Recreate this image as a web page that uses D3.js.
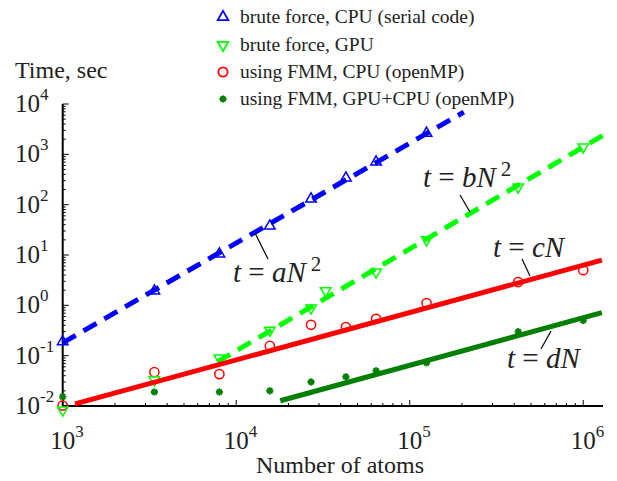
<!DOCTYPE html>
<html>
<head>
<meta charset="utf-8">
<script src="https://cdn.jsdelivr.net/npm/d3@7"></script>
<style>
  body { margin: 0; background: #fff; }
  text { font-family: "Liberation Serif", "Times New Roman", "DejaVu Serif", serif; fill: #222; }
</style>
</head>
<body>
<script>
// timings (seconds), N = number of atoms
var nAtoms   = [1000, 3375, 8000, 15625, 27000, 42875, 64000, 125000, 421875, 1000000];
var nAtomsGpu = [1000, 3375, 8000, 15625, 27000, 32768, 64000, 125000, 421875, 1000000];
var bruteCpu = [0.19, 1.93, 10.5, 37.7, 130, 339, 708, 2630, null, null];
var bruteGpu = [0.0083, 0.033, 0.09, 0.32, 0.885, 1.95, 4.6, 20, 224, 1400];
var fmmCpu   = [0.0102, 0.047, 0.043, 0.156, 0.41, 0.37, 0.54, 1.11, 2.9, 5.0];
var fmmGpu   = [0.0153, 0.019, 0.019, 0.020, 0.030, 0.038, 0.05, 0.072, 0.30, 0.50];

// fitted lines, end points [N, t]
var fitA = [[1000, 0.18], [205000, 6900]];
var fitB = [[7770, 0.075], [1370000, 2650]];
var fitC = [[1178, 0.011], [1280000, 7.9]];
var fitD = [[17950, 0.0127], [1280000, 0.714]];

var legendLabels = ["brute force, CPU (serial code)", "brute force, GPU",
                    "using FMM, CPU (openMP)", "using FMM, GPU+CPU (openMP)"];
var xTickExp = [3, 4, 5, 6];
var yTickExp = [-2, -1, 0, 1, 2, 3, 4];

var width = 617, height = 481;
var svg = d3.select("body").append("svg")
    .attr("width", width)
    .attr("height", height)
    .attr("font-family", "Liberation Serif, Times New Roman, DejaVu Serif, serif");

var x = d3.scaleLog().domain([1e3, 1.3e6]).range([62.7, 603]);
var y = d3.scaleLog().domain([1e-2, 1e4]).range([406, 104]);

var blue = "#0000ff", green = "#00ff00", red = "#ff0000", dgreen = "#007f00";

// ---- axes (ticks pointing inward) ----
var xAll = x.ticks().filter(function(v){ return v <= 1e6; });
var yAll = y.ticks();
function isMajor(v){ return Math.abs(Math.log10(v) - Math.round(Math.log10(v))) < 1e-9; }

var gx = svg.append("g").attr("transform", "translate(0,406)");
gx.append("line").attr("x1", 62.7).attr("x2", 603).attr("stroke", "#000").attr("stroke-width", 2);
gx.selectAll(".tk").data(xAll).enter().append("line")
    .attr("x1", function(d){ return x(d); })
    .attr("x2", function(d){ return x(d); })
    .attr("y1", 0)
    .attr("y2", function(d){ return isMajor(d) ? -6 : -3; })
    .attr("stroke", "#000").attr("stroke-width", 1);

var gy = svg.append("g").attr("transform", "translate(62.7,0)");
gy.append("line").attr("y1", 104).attr("y2", 406).attr("stroke", "#000").attr("stroke-width", 2);
gy.selectAll(".tk").data(yAll).enter().append("line")
    .attr("y1", function(d){ return y(d); })
    .attr("y2", function(d){ return y(d); })
    .attr("x1", 0)
    .attr("x2", function(d){ return isMajor(d) ? 6 : 3; })
    .attr("stroke", "#000").attr("stroke-width", 1);

// tick labels 10^k
xTickExp.forEach(function(k){
    var t = svg.append("text").attr("x", x(Math.pow(10, k)) - 12.5).attr("y", 449);
    t.append("tspan").attr("font-size", 25).text("10");
    t.append("tspan").attr("font-size", 17).attr("dy", -12).text(k);
});
yTickExp.forEach(function(k){
    var t = svg.append("text").attr("x", 15).attr("y", y(Math.pow(10, k)) + 8);
    t.append("tspan").attr("font-size", 25).text("10");
    t.append("tspan").attr("font-size", 17).attr("dy", -12).text(k);
});

svg.append("text").attr("x", 15).attr("y", 78).attr("font-size", 24).text("Time, sec");
svg.append("text").attr("x", 340).attr("y", 473).attr("text-anchor", "middle")
    .attr("font-size", 24).text("Number of atoms");

// ---- markers ----
var triUp = d3.symbol().type(d3.symbolTriangle).size(48);
function star(g, cx, cy, col){
    var r = 3.6;
    for (var i = 0; i < 4; i++){
        var a = i * Math.PI / 4;
        g.append("line")
            .attr("x1", cx - r * Math.cos(a)).attr("y1", cy - r * Math.sin(a))
            .attr("x2", cx + r * Math.cos(a)).attr("y2", cy + r * Math.sin(a))
            .attr("stroke", col).attr("stroke-width", 2);
    }
}

var marks = svg.append("g");
nAtoms.forEach(function(n, i){
    if (bruteCpu[i] != null){
        marks.append("path").attr("d", triUp())
            .attr("transform", "translate(" + x(n) + "," + y(bruteCpu[i]) + ")")
            .attr("fill", "none").attr("stroke", blue).attr("stroke-width", 1.5);
    }
    marks.append("circle").attr("cx", x(n)).attr("cy", y(fmmCpu[i])).attr("r", 4.6)
        .attr("fill", "none").attr("stroke", red).attr("stroke-width", 1.5);
    star(marks, x(n), y(fmmGpu[i]), dgreen);
});
nAtomsGpu.forEach(function(n, i){
    marks.append("path").attr("d", triUp())
        .attr("transform", "translate(" + x(n) + "," + y(bruteGpu[i]) + ") rotate(180)")
        .attr("fill", "none").attr("stroke", green).attr("stroke-width", 1.5);
});

// ---- fit lines ----
var line = d3.line().x(function(d){ return x(d[0]); }).y(function(d){ return y(d[1]); });
svg.append("path").attr("d", line(fitA)).attr("fill", "none").attr("stroke", blue)
    .attr("stroke-width", 5).attr("stroke-dasharray", "15,9");
svg.append("path").attr("d", line(fitB)).attr("fill", "none").attr("stroke", green)
    .attr("stroke-width", 5).attr("stroke-dasharray", "15,9");
svg.append("path").attr("d", line(fitC)).attr("fill", "none").attr("stroke", red)
    .attr("stroke-width", 5);
svg.append("path").attr("d", line(fitD)).attr("fill", "none").attr("stroke", dgreen)
    .attr("stroke-width", 5);

// ---- annotations ----
var notes = [
    {coef: "a", sq: true,  tx: 233, ty: 282, l: [255, 233, 268, 259]},
    {coef: "b", sq: true,  tx: 423, ty: 187, l: [460, 195, 470, 212]},
    {coef: "c", sq: false, tx: 493, ty: 257, l: [522, 259, 530, 276]},
    {coef: "d", sq: false, tx: 507, ty: 368, l: [551, 331, 541, 349]}
];
notes.forEach(function(o){
    svg.append("line").attr("x1", o.l[0]).attr("y1", o.l[1]).attr("x2", o.l[2]).attr("y2", o.l[3])
        .attr("stroke", "#111").attr("stroke-width", 1.3);
    var t = svg.append("text").attr("x", o.tx).attr("y", o.ty).attr("font-size", 29);
    t.append("tspan").attr("font-style", "italic").text("t");
    t.append("tspan").text(" = ");
    t.append("tspan").attr("font-style", "italic").text(o.coef + "N");
    if (o.sq) t.append("tspan").attr("font-size", 21).attr("dx", 5).attr("dy", -11).text("2");
});

// ---- legend ----
var legY = [17, 45, 72, 99];
var lg = svg.append("g");
lg.append("path").attr("d", triUp()).attr("transform", "translate(223," + legY[0] + ")")
    .attr("fill", "none").attr("stroke", blue).attr("stroke-width", 1.8);
lg.append("path").attr("d", triUp()).attr("transform", "translate(223," + legY[1] + ") rotate(180)")
    .attr("fill", "none").attr("stroke", green).attr("stroke-width", 1.8);
lg.append("circle").attr("cx", 223).attr("cy", legY[2]).attr("r", 4.6)
    .attr("fill", "none").attr("stroke", red).attr("stroke-width", 1.8);
star(lg, 223, legY[3], dgreen);
legendLabels.forEach(function(s, i){
    lg.append("text").attr("x", 240).attr("y", legY[i] + 6).attr("font-size", 19.5).text(s);
});
</script>
</body>
</html>
